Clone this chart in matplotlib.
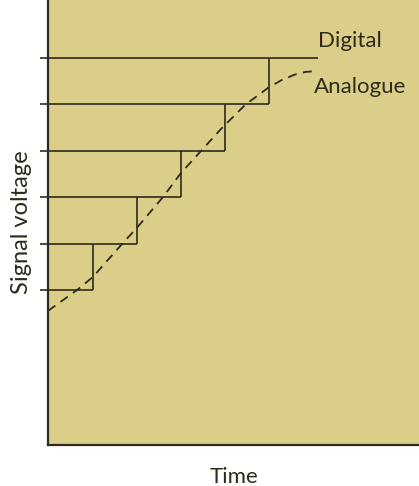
import numpy as np
import matplotlib
matplotlib.use("Agg")
import matplotlib.pyplot as plt

# digital levels and the times where each step ends
levels = [1, 2, 3, 4, 5, 6]
step_ends = [1.02, 2.02, 3.02, 4.02, 5.02, 6.14]

# analogue signal
analogue_t = [0.0, 0.66, 1.02, 1.68, 2.02, 2.61, 3.02, 3.48, 3.91, 4.48, 5.02, 5.3, 5.6, 5.85, 6.11]
analogue_v = [0.55, 1.0, 1.28, 1.99, 2.34, 3.0, 3.52, 4.0, 4.45, 4.99, 5.37, 5.52, 5.64, 5.7, 5.72]

bg = "#dbce89"
ink = "#2e2a1c"
plt.rcParams["font.family"] = ["Lato", "DejaVu Sans"]

fig = plt.figure(figsize=(4.19, 4.86), dpi=100)
ax = fig.add_axes([48 / 419, 41 / 486, 371 / 419, 445 / 486])
ax.set_facecolor(bg)

# staircase: horizontal from the axis to the step end, then up to next level
for i, (lv, xe) in enumerate(zip(levels, step_ends)):
    ax.plot([0, xe], [lv, lv], color=ink, lw=1.2, solid_capstyle="butt")
    if i + 1 < len(levels):
        ax.plot([xe, xe], [lv, levels[i + 1]], color=ink, lw=1.2, solid_capstyle="butt")

ax.plot(analogue_t, analogue_v, color=ink, lw=1.3, linestyle=(0, (5, 3.5)))

ax.text(6.14, 6.37, "Digital", fontsize=16, color=ink, ha="left", va="center")
ax.text(6.05, 5.375, "Analogue", fontsize=16, color=ink, ha="left", va="center")

ax.set_xlim(0, 8.43)
ax.set_ylim(1 - 155 / 46.4, 6 + 58 / 46.4)
ax.set_yticks(levels)
ax.set_yticklabels([])
ax.set_xticks([])
ax.tick_params(axis="y", direction="out", length=6, width=1.2, color=ink)
for s in ["top", "right"]:
    ax.spines[s].set_visible(False)
for s in ["left", "bottom"]:
    ax.spines[s].set_color(ink)
    ax.spines[s].set_linewidth(1.6)

ax.set_xlabel("Time", fontsize=16, color=ink, labelpad=16)
ax.set_ylabel("Signal voltage", fontsize=17, color=ink, labelpad=2)

fig.savefig("out.png", dpi=100, facecolor="white")
